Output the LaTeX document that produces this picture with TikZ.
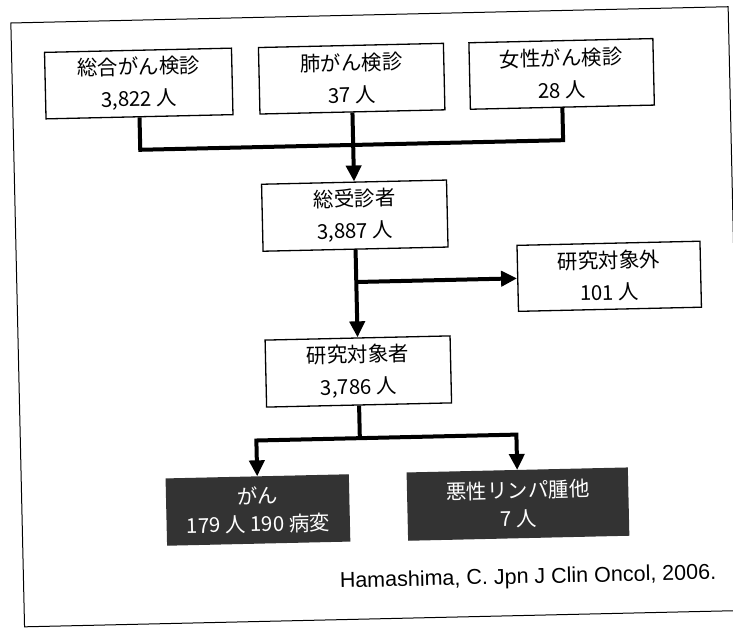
\documentclass[tikz,border=0pt]{standalone}
\usepackage{fontspec}
\newfontfamily\jpfont{Noto Sans CJK JP}
\newfontfamily\citefont{Liberation Sans}
\usetikzlibrary{arrows.meta}
\begin{document}
\begin{tikzpicture}[x=1pt,y=-1pt,
  box/.style={draw, line width=1.3pt, inner sep=0pt, align=center,
    font=\jpfont\fontsize{20.5}{32}\selectfont},
  darkbox/.style={box, fill=black!80, draw=black!80, text=white,
    font=\jpfont\fontsize{20.5}{28}\selectfont},
  conn/.style={line width=4pt},
  arr/.style={conn, -{Triangle[length=16pt,width=15pt]}},
  frame/.style={line width=1pt}
]
\useasboundingbox (0,0) rectangle (733,627);
\begin{scope}[rotate around={1.3:(366,313)}, transform shape]
\draw[frame] (17.5,15) rectangle (735,619);
% top row
\node[box, minimum width=187pt, minimum height=66.5pt] (A) at (144,78.4) {総合がん検診\\3,822 人};
\node[box, minimum width=185pt, minimum height=66.5pt] (B) at (357,78.4) {肺がん検診\\37 人};
\node[box, minimum width=184pt, minimum height=66.5pt] (C) at (567,78.4) {女性がん検診\\28 人};
% middle
\node[box, minimum width=185pt, minimum height=67pt] (D) at (357,215.4) {総受診者\\3,887 人};
\node[box, minimum width=183pt, minimum height=66pt] (F) at (610,281.8) {研究対象外\\101 人};
\node[box, minimum width=185pt, minimum height=67pt] (E) at (357,371.3) {研究対象者\\3,786 人};
% bottom
\node[darkbox, minimum width=182pt, minimum height=66pt] (G) at (253.5,507.5) {がん\\179 人 190 病変};
\node[darkbox, minimum width=220pt, minimum height=67pt] (H) at (513.6,507.5) {悪性リンパ腫他\\7 人};
% citation
\node[font=\citefont\fontsize{21.5}{25}\selectfont, inner sep=0pt] (cite) at (522,581.6) {Hamashima, C. Jpn J Clin Oncol, 2006.};
% connectors
\coordinate (j1) at (357,144.7);
\coordinate (j2) at (357,281.8);
\coordinate (j3) at (357,438);
\draw[conn] (A.south) |- (j1) -| (C.south);
\draw[conn] (B.south) -- (j1);
\draw[arr] (j1) -- (D.north);
\draw[arr] (D.south) -- (E.north);
\draw[arr] (j2) -- (F.west);
\draw[conn] (E.south) -- (j3);
\draw[arr] (j3) -| (G.north);
\draw[arr] (j3) -| (H.north);
\end{scope}
\end{tikzpicture}
\end{document}
